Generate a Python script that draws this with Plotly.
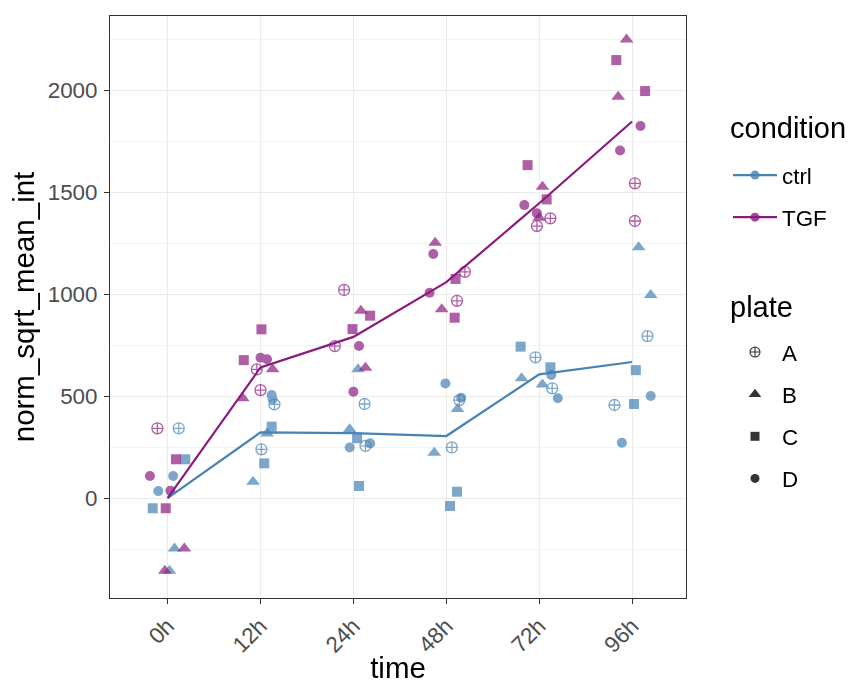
import plotly.graph_objects as go

# ---------------- data ----------------
time_labels = ["0h", "12h", "24h", "48h", "72h", "96h"]
plates = ["A", "B", "C", "D"]

ctrl_time = [0]*7 + [1]*8 + [2]*8 + [3]*8 + [4]*8 + [5]*8
ctrl_plate = ["A", "B", "B", "C", "C", "D", "D",
              "D", "D", "A", "C", "B", "A", "C", "B",
              "B", "A", "B", "C", "D", "A", "D", "C",
              "D", "D", "A", "B", "B", "A", "C", "C",
              "C", "A", "C", "B", "D", "B", "A", "D",
              "B", "B", "A", "C", "D", "C", "A", "D"]
ctrl_jitter = [0.12, 0.075, 0.02, 0.19, -0.16, 0.06, -0.10,
               0.12, 0.13, 0.15, 0.12, 0.07, 0.01, 0.04, -0.08,
               0.05, 0.12, -0.04, 0.04, -0.04, 0.13, 0.18, 0.06,
               -0.01, 0.16, 0.14, 0.12, -0.13, 0.06, 0.115, 0.04,
               -0.20, -0.04, 0.12, -0.19, 0.13, 0.035, 0.14, 0.20,
               0.07, 0.20, 0.165, 0.04, 0.20, 0.02, -0.19, -0.11]
ctrl_value = [342, -247, -356, 190, -50, 108, 34,
              505, 485, 459, 350, 317, 239, 170, 80,
              631, 461, 337, 293, 248, 256, 268, 59,
              562, 492, 480, 436, 222, 248, 31, -39,
              742, 690, 641, 587, 603, 557, 538, 489,
              1229, 995, 794, 627, 500, 461, 456, 271]

tgf_time = [0]*7 + [1]*8 + [2]*8 + [3]*8 + [4]*8 + [5]*8
tgf_plate = ["A", "B", "B", "C", "C", "D", "D",
             "C", "C", "D", "D", "A", "B", "A", "B",
             "A", "B", "C", "C", "A", "D", "B", "D",
             "B", "D", "A", "C", "D", "A", "B", "C",
             "C", "B", "C", "D", "D", "B", "A", "A",
             "B", "C", "B", "C", "D", "D", "A", "A"]
tgf_jitter = [-0.11, 0.18, -0.03, 0.09, -0.02, -0.19, 0.03,
              0.01, -0.18, 0.0, 0.07, -0.04, 0.13, 0.0, -0.19,
              -0.10, 0.08, 0.18, -0.01, -0.20, 0.06, 0.13, 0.0,
              -0.12, -0.14, 0.20, 0.10, -0.18, 0.115, -0.05, 0.09,
              -0.125, 0.035, 0.08, -0.16, -0.025, 0.0, 0.12, -0.025,
              -0.06, -0.17, -0.15, 0.14, 0.09, -0.13, 0.03, 0.03]
tgf_value = [342, -247, -356, 190, -50, 108, 36,
             827, 676, 688, 680, 631, 631, 529, 489,
             1020, 918, 894, 828, 745, 745, 639, 521,
             1251, 1196, 1109, 1074, 1006, 967, 925, 884,
             1632, 1526, 1464, 1436, 1396, 1374, 1371, 1333,
             2248, 2147, 1967, 1995, 1824, 1704, 1543, 1358]

ctrl_mean = [0, 322, 318, 304, 606, 667]
tgf_mean = [0, 640, 790, 1058, 1445, 1846]

# ---------------- styles ----------------
ctrl_col = "#4682B4"
tgf_col = "#8B1A7E"
symbols = {"A": "circle-cross-open", "B": "triangle-up", "C": "square", "D": "circle"}
sizes = {"A": 11, "B": 12, "C": 10, "D": 10}
FONT = "Liberation Sans, Arial, sans-serif"
TICK = 22.4
TITLE = 29.5
W, H = 849, 684

fig = go.Figure()

for cond, col, t, p, j, v in [("ctrl", ctrl_col, ctrl_time, ctrl_plate, ctrl_jitter, ctrl_value),
                              ("TGF", tgf_col, tgf_time, tgf_plate, tgf_jitter, tgf_value)]:
    for pl in plates:
        xs = [ti + ji for ti, pi, ji in zip(t, p, j) if pi == pl]
        ys = [vi for pi, vi in zip(p, v) if pi == pl]
        fig.add_trace(go.Scatter(
            x=xs, y=ys, mode="markers", showlegend=False, opacity=0.7,
            marker=dict(symbol=symbols[pl], size=sizes[pl], color=col,
                        line=dict(width=1.3 if pl == "A" else 0, color=col)),
            hoverinfo="skip"))

x_idx = list(range(len(time_labels)))
for cond, col, m in [("ctrl", ctrl_col, ctrl_mean), ("TGF", tgf_col, tgf_mean)]:
    fig.add_trace(go.Scatter(x=x_idx, y=m, mode="lines", line=dict(color=col, width=2.2),
                             showlegend=False))
    fig.add_trace(go.Scatter(x=[None], y=[None], mode="lines+markers", name=cond,
                             line=dict(color=col, width=2.2),
                             marker=dict(symbol="circle", size=9, color=col, opacity=0.8),
                             legend="legend", legendgroup=cond))

for pl in plates:
    fig.add_trace(go.Scatter(x=[None], y=[None], mode="markers", name=pl,
                             marker=dict(symbol=symbols[pl], size=sizes[pl] - 1, color="#333333",
                                         line=dict(width=1.1 if pl == "A" else 0, color="#333333")),
                             legend="legend2", legendgroup=pl))

axis_common = dict(showline=True, mirror=True, linecolor="#333333", linewidth=1,
                   ticks="outside", ticklen=5, tickcolor="#333333", zeroline=False,
                   gridcolor="#EBEBEB", gridwidth=1.1, automargin=False,
                   tickfont=dict(family=FONT, size=TICK, color="#4D4D4D"))

legend_common = dict(xref="container", yref="container", xanchor="left", yanchor="top",
                     font=dict(family=FONT, size=TICK, color="black"), itemwidth=44,
                     tracegroupgap=10, traceorder="grouped", bgcolor="rgba(0,0,0,0)")

fig.update_layout(
    width=W, height=H,
    margin=dict(l=110, r=163, t=16, b=86, autoexpand=False),
    plot_bgcolor="white", paper_bgcolor="white",
    font=dict(family=FONT),
    xaxis=dict(**axis_common, range=[-0.62, 5.58], tickmode="array", tickvals=x_idx,
               ticktext=time_labels, tickangle=-45,
               title=dict(text="time", font=dict(family=FONT, size=TITLE, color="black"), standoff=5)),
    yaxis=dict(**axis_common, range=[-490, 2363], tickmode="linear", tick0=0, dtick=500,
               ticklabelstandoff=2,
               minor=dict(dtick=250, tick0=0, showgrid=True, gridcolor="#F2F2F2", gridwidth=0.7, ticks=""),
               title=dict(text="norm_sqrt_mean_int", font=dict(family=FONT, size=TITLE, color="black"), standoff=4)),
    legend=dict(**legend_common, x=728 / W, y=1 - 154 / H),
    legend2=dict(**legend_common, x=728 / W, y=1 - 331 / H),
    annotations=[
        dict(text="condition", xref="paper", yref="paper", showarrow=False,
             x=(728 - 110) / 576, y=(598 - 128) / 582, xanchor="left", yanchor="middle",
             font=dict(family=FONT, size=29, color="black")),
        dict(text="plate", xref="paper", yref="paper", showarrow=False,
             x=(728 - 110) / 576, y=(598 - 307) / 582, xanchor="left", yanchor="middle",
             font=dict(family=FONT, size=29, color="black")),
    ],
)

fig.write_html("out.html")
